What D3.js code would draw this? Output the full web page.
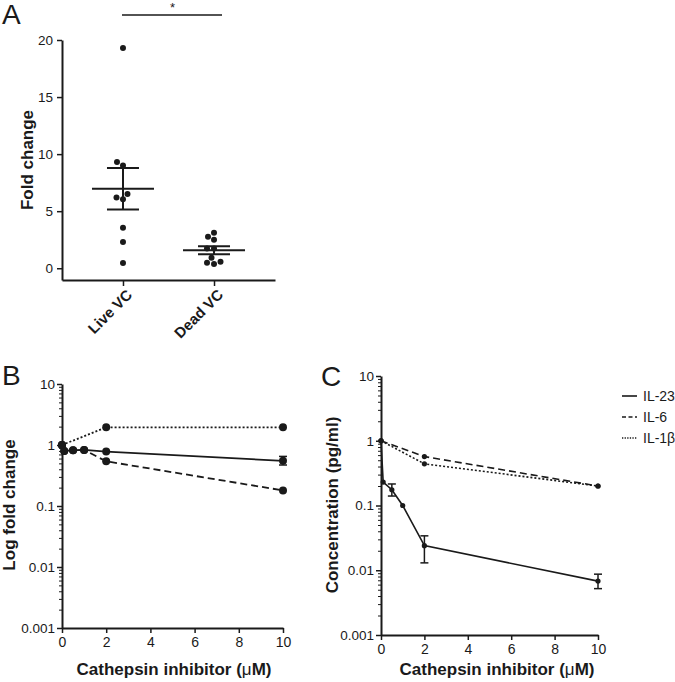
<!DOCTYPE html>
<html>
<head>
<meta charset="utf-8">
<script src="https://cdn.jsdelivr.net/npm/d3@7"></script>
<style>
  body { margin: 0; background: #fff; }
  svg { font-family: "Liberation Sans", Arial, sans-serif; }
  .axis path, .axis line { stroke: #1a1a1a; }
  .axis text { fill: #1a1a1a; font-size: 13.5px; }
</style>
</head>
<body>
<svg width="675" height="682"></svg>
<script>
// ---- panel A data
var catsA = ["Live VC", "Dead VC"];
var liveVC = [19.3, 9.3, 9.0, 6.5, 6.2, 6.05, 3.55, 2.3, 0.45];
var deadVC = [3.1, 2.75, 2.5, 1.72, 1.72, 0.93, 0.58, 0.38, 0.48];
var ticksA = [0, 5, 10, 15, 20];

// ---- panel B data (fold change vs inhibitor)
var doseB = [0, 0.1, 0.5, 1, 2, 10];
var il23B = [1.0, 0.8, 0.82, 0.83, 0.78, 0.55];
var il23BLo = [null, null, null, null, null, 0.47];
var il23BHi = [null, null, null, null, null, 0.65];
var il6B = [1.0, 0.8, 0.82, 0.83, 0.54, 0.18];
var doseB1b = [0, 2, 10];
var il1bB = [1.0, 1.95, 1.95];

// ---- panel C data (concentration)
var doseC23 = [0, 0.1, 0.5, 1, 2, 10];
var il23C = [1.0, 0.23, 0.175, 0.1, 0.024, 0.0068];
var il23CLo = [null, null, 0.14, null, 0.013, 0.0052];
var il23CHi = [null, null, 0.215, null, 0.034, 0.0087];
var doseC = [0, 2, 10];
var il6C = [1.0, 0.57, 0.2];
var il1bC = [1.0, 0.44, 0.2];

var logTicks = [0.001, 0.01, 0.1, 1, 10];
var xTicks = [0, 2, 4, 6, 8, 10];
var legendNames = ["IL-23", "IL-6", "IL-1\u03b2"];

var svg = d3.select("svg");
var ink = "#1a1a1a";

// minor ticks for log axis
var minor = [];
logTicks.slice(0, -1).forEach(function(t) {
  for (var k = 2; k < 10; k++) minor.push(t * k);
});

function panelLabel(txt, x, y) {
  svg.append("text").attr("x", x).attr("y", y)
    .style("font-size", "28px").style("fill", ink).text(txt);
}

function yTitle(txt, x, y) {
  svg.append("text")
    .attr("transform", "translate(" + x + "," + y + ") rotate(-90)")
    .attr("text-anchor", "middle")
    .style("font-size", "17px").style("font-weight", "bold").style("fill", ink)
    .text(txt);
}

function xTitle(x, y) {
  var t = svg.append("text").attr("x", x).attr("y", y)
    .attr("text-anchor", "middle")
    .style("font-size", "17px").style("font-weight", "bold").style("fill", ink);
  t.append("tspan").text("Cathepsin inhibitor (");
  t.append("tspan").style("font-weight", "normal").text("\u03bc");
  t.append("tspan").text("M)");
}

// ================= Panel A =================
panelLabel("A", 2, 24);

var xA = d3.scalePoint().domain(catsA).range([62, 275]).padding(0.67);
var yA = d3.scaleLinear().domain([-1.03, 20]).range([280, 40]);

var gA = svg.append("g");
gA.append("g").attr("class", "axis")
  .attr("transform", "translate(62,0)")
  .call(d3.axisLeft(yA).tickValues(ticksA).tickSize(5).tickPadding(4).tickSizeOuter(0))
  .call(function(g) { g.select(".domain").attr("stroke-width", 2); g.selectAll("line").attr("stroke-width", 1.5); });

var axA = gA.append("g").attr("class", "axis")
  .attr("transform", "translate(0,280)")
  .call(d3.axisBottom(xA).tickSize(6).tickSizeOuter(0));
axA.select(".domain").attr("stroke-width", 2);
axA.selectAll("line").attr("stroke-width", 1.5);
axA.selectAll("text")
  .attr("y", 0).attr("x", 0).attr("dy", "0.35em")
  .attr("transform", "translate(6,12) rotate(-45)")
  .style("text-anchor", "end")
  .style("font-size", "15px").style("font-weight", "bold");

// beeswarm placement for the column scatter
function swarm(vals, cx, r) {
  var placed = [];
  var order = vals.map(function(v, i) { return i; })
    .sort(function(a, b) { return vals[a] - vals[b]; });
  var out = new Array(vals.length);
  order.forEach(function(i) {
    var py = yA(vals[i]);
    for (var s = 0; s < 60; s++) {
      var off = (s % 2 === 0 ? 1 : -1) * Math.ceil(s / 2) * 0.5;
      var ok = placed.every(function(p) {
        var dx = p.x - (cx + off), dy = p.y - py;
        return dx * dx + dy * dy >= (2 * r + 0.6) * (2 * r + 0.6);
      });
      if (ok) { out[i] = { x: cx + off, y: py }; placed.push(out[i]); break; }
    }
  });
  return out;
}

[liveVC, deadVC].forEach(function(vals, ci) {
  var cx = xA(catsA[ci]);
  var m = d3.mean(vals);
  var sem = d3.deviation(vals) / Math.sqrt(vals.length);
  var pts = swarm(vals, cx, 3);
  gA.selectAll(".dotA" + ci).data(pts).enter().append("circle")
    .attr("cx", function(d) { return d.x; })
    .attr("cy", function(d) { return d.y; })
    .attr("r", 3).attr("fill", ink);
  gA.append("line").attr("x1", cx - 31).attr("x2", cx + 31)
    .attr("y1", yA(m)).attr("y2", yA(m)).attr("stroke", ink).attr("stroke-width", 2);
  gA.append("line").attr("x1", cx).attr("x2", cx)
    .attr("y1", yA(m - sem)).attr("y2", yA(m + sem)).attr("stroke", ink).attr("stroke-width", 2);
  [m - sem, m + sem].forEach(function(v) {
    gA.append("line").attr("x1", cx - 16).attr("x2", cx + 16)
      .attr("y1", yA(v)).attr("y2", yA(v)).attr("stroke", ink).attr("stroke-width", 2);
  });
});

// significance bar
gA.append("line").attr("x1", xA(catsA[0]) - 1).attr("x2", xA(catsA[1]) + 8)
  .attr("y1", 15).attr("y2", 15).attr("stroke", ink).attr("stroke-width", 1.6);
gA.append("text").attr("x", (xA(catsA[0]) + xA(catsA[1])) / 2 + 4).attr("y", 12)
  .attr("text-anchor", "middle").style("font-size", "13px").style("fill", ink).text("*");

yTitle("Fold change", 33, 160);

// ================= log panels =================
function logPanel(opt) {
  var x = d3.scaleLinear().domain([0, 10]).range([opt.x0, opt.x1]);
  var y = d3.scaleLog().domain([0.001, 10]).range([opt.y1, opt.y0]);
  var g = svg.append("g");

  g.append("g").attr("class", "axis")
    .attr("transform", "translate(" + opt.x0 + ",0)")
    .call(d3.axisLeft(y).tickValues(minor).tickSize(3).tickFormat("").tickSizeOuter(0))
    .call(function(a) { a.select(".domain").remove(); a.selectAll("line").attr("stroke-width", 1); });
  g.append("g").attr("class", "axis")
    .attr("transform", "translate(" + opt.x0 + ",0)")
    .call(d3.axisLeft(y).tickValues(logTicks).tickSize(5).tickPadding(2).tickSizeOuter(0)
      .tickFormat(function(d) { return String(d); }))
    .call(function(a) { a.select(".domain").attr("stroke-width", 2); a.selectAll("line").attr("stroke-width", 1.5); });
  g.append("g").attr("class", "axis")
    .attr("transform", "translate(0," + opt.y1 + ")")
    .call(d3.axisBottom(x).tickValues(xTicks).tickSize(5).tickPadding(4).tickSizeOuter(0))
    .call(function(a) { a.select(".domain").attr("stroke-width", 2); a.selectAll("line").attr("stroke-width", 1.5); })
    .selectAll("text").style("font-size", "14px");

  var line = d3.line().x(function(d) { return x(d[0]); }).y(function(d) { return y(d[1]); });

  opt.series.forEach(function(s) {
    var pts = d3.zip(s.dose, s.vals);
    g.append("path").datum(pts).attr("d", line)
      .attr("fill", "none").attr("stroke", ink).attr("stroke-width", opt.lw)
      .attr("stroke-dasharray", s.dash);
    if (s.lo) {
      s.dose.forEach(function(dv, i) {
        if (s.lo[i] == null) return;
        g.append("line").attr("x1", x(dv)).attr("x2", x(dv))
          .attr("y1", y(s.lo[i])).attr("y2", y(s.hi[i])).attr("stroke", ink).attr("stroke-width", 1.5);
        [s.lo[i], s.hi[i]].forEach(function(v) {
          g.append("line").attr("x1", x(dv) - 4).attr("x2", x(dv) + 4)
            .attr("y1", y(v)).attr("y2", y(v)).attr("stroke", ink).attr("stroke-width", 1.5);
        });
      });
    }
    g.selectAll(null).data(pts).enter().append("circle")
      .attr("cx", function(d) { return x(d[0]); })
      .attr("cy", function(d) { return y(d[1]); })
      .attr("r", opt.r).attr("fill", ink);
  });
  return g;
}

// Panel B
panelLabel("B", 2, 385);
logPanel({
  x0: 62, x1: 283, y0: 384, y1: 628, r: 4, lw: 1.8,
  series: [
    { dose: doseB, vals: il23B, lo: il23BLo, hi: il23BHi, dash: null },
    { dose: doseB, vals: il6B, dash: "7,4" },
    { dose: doseB1b, vals: il1bB, dash: "2,2" }
  ]
});
yTitle("Log fold change", 15, 505);
xTitle(174, 675);

// Panel C
panelLabel("C", 321, 386);
logPanel({
  x0: 381, x1: 598, y0: 376, y1: 635, r: 2.6, lw: 1.6,
  series: [
    { dose: doseC23, vals: il23C, lo: il23CLo, hi: il23CHi, dash: null },
    { dose: doseC, vals: il6C, dash: "7,4" },
    { dose: doseC, vals: il1bC, dash: "2,2" }
  ]
});
yTitle("Concentration (pg/ml)", 338, 505);
xTitle(497, 675);

// legend
var leg = svg.append("g").attr("transform", "translate(622,396)");
legendNames.forEach(function(n, i) {
  var row = leg.append("g").attr("transform", "translate(0," + (i * 21) + ")");
  row.append("line").attr("x1", 0).attr("x2", 15).attr("y1", 0).attr("y2", 0)
    .attr("stroke", ink).attr("stroke-width", 1.6)
    .attr("stroke-dasharray", i === 0 ? null : (i === 1 ? "4,2.5" : "1.3,1.3"));
  row.append("text").attr("x", 21).attr("y", 0).attr("dy", "0.35em")
    .style("font-size", "14px").style("fill", ink).text(n);
});
</script>
</body>
</html>
